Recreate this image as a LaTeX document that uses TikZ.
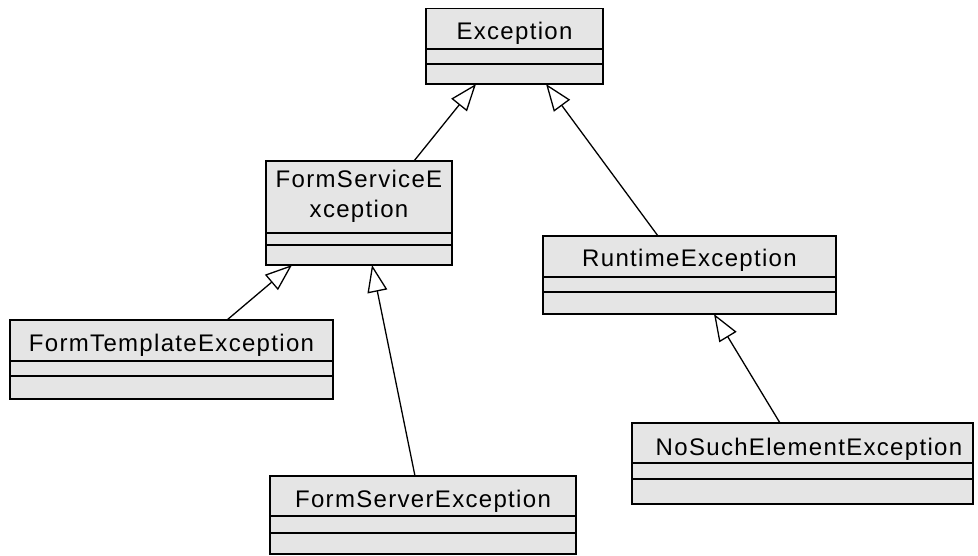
\documentclass[tikz,border=0pt]{standalone}
\usepackage{fontspec}
\setmainfont{Liberation Sans}[LetterSpace=5.5]
\usetikzlibrary{arrows.meta}
\begin{document}
\begin{tikzpicture}[x=1pt,y=-1pt,
  umlbox/.style={draw=black, line width=1.8pt, fill=black!10, inner sep=0pt, outer sep=0pt, anchor=north west},
  divider/.style={draw=black, line width=1.6pt},
  lbl/.style={inner sep=0pt, anchor=base, font=\fontsize{24}{30}\selectfont, align=center},
  gen/.style={draw=black, line width=1.3pt, -{Triangle[open, length=27pt, width=20pt, line width=1.3pt]}}]
\fill[white] (0,0) rectangle (978,556);
\useasboundingbox (0,0) rectangle (978,556);
% boxes
\node[umlbox, minimum width=177pt, minimum height=75.5pt] (exc) at (426,8.5) {};
\node[umlbox, minimum width=186pt, minimum height=104pt] (fse) at (266,161) {};
\node[umlbox, minimum width=293pt, minimum height=78pt] (rte) at (543,236) {};
\node[umlbox, minimum width=323pt, minimum height=79pt] (fte) at (10,320) {};
\node[umlbox, minimum width=341pt, minimum height=81pt] (nse) at (632,423) {};
\node[umlbox, minimum width=306pt, minimum height=78pt] (fsv) at (270,476) {};
% dividers
\draw[divider] ([yshift=-40.5pt]exc.north west) -- ([yshift=-40.5pt]exc.north east);
\draw[divider] ([yshift=-55.5pt]exc.north west) -- ([yshift=-55.5pt]exc.north east);
\draw[divider] ([yshift=-72pt]fse.north west) -- ([yshift=-72pt]fse.north east);
\draw[divider] ([yshift=-84pt]fse.north west) -- ([yshift=-84pt]fse.north east);
\draw[divider] ([yshift=-41pt]rte.north west) -- ([yshift=-41pt]rte.north east);
\draw[divider] ([yshift=-56pt]rte.north west) -- ([yshift=-56pt]rte.north east);
\draw[divider] ([yshift=-41pt]fte.north west) -- ([yshift=-41pt]fte.north east);
\draw[divider] ([yshift=-56pt]fte.north west) -- ([yshift=-56pt]fte.north east);
\draw[divider] ([yshift=-40pt]nse.north west) -- ([yshift=-40pt]nse.north east);
\draw[divider] ([yshift=-56pt]nse.north west) -- ([yshift=-56pt]nse.north east);
\draw[divider] ([yshift=-40pt]fsv.north west) -- ([yshift=-40pt]fsv.north east);
\draw[divider] ([yshift=-57pt]fsv.north west) -- ([yshift=-57pt]fsv.north east);
% labels
\node[lbl] (excl) at (514.5,40) {Exception};
\node[lbl, anchor=north] (fsel) at (359,170) {FormServiceE\\xception};
\node[lbl] (rtel) at (689.5,267) {RuntimeException};
\node[lbl] (ftel) at (171.5,352) {FormTemplateException};
\node[lbl] (nsel) at (809,455) {NoSuchElementException};
\node[lbl] (fsvl) at (423,507) {FormServerException};
% generalizations
\draw[gen] ([xshift=148pt]fse.north west) -- ([xshift=50pt]exc.south west);
\draw[gen] ([xshift=115pt]rte.north west) -- ([xshift=120pt]exc.south west);
\draw[gen] ([xshift=217pt]fte.north west) -- ([xshift=26pt]fse.south west);
\draw[gen] ([xshift=145pt]fsv.north west) -- ([xshift=106pt]fse.south west);
\draw[gen] ([xshift=148pt]nse.north west) -- ([xshift=171pt]rte.south west);
\end{tikzpicture}
\end{document}
